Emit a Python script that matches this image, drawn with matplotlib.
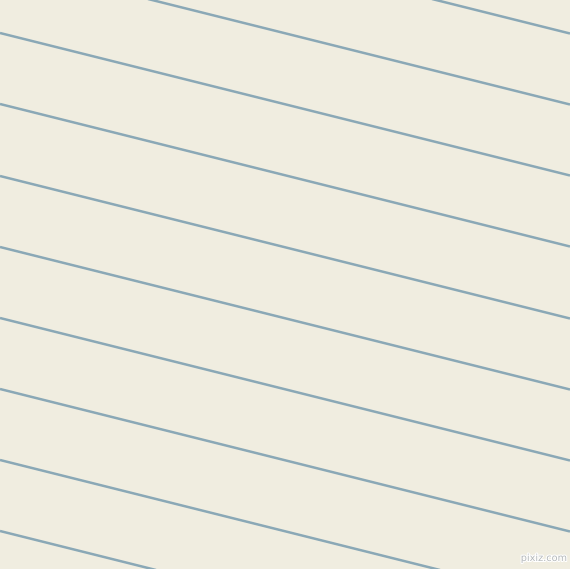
import numpy as np
import matplotlib
matplotlib.use("Agg")
import matplotlib.pyplot as plt
import matplotlib.patheffects as pe

# line intercepts at left edge (pixels) and common slope
intercepts = [-109, -38, 33, 104, 176, 247, 318, 389, 460, 531]
slope = 0.25
x_ends = [0, 570]

bg = "#f0ede0"
line_col = "#8aa8b6"

fig = plt.figure(figsize=(5.70, 5.69), dpi=100)
fig.patch.set_facecolor(bg)
ax = fig.add_axes([0, 0, 1, 1])
ax.set_facecolor(bg)
ax.set_xlim(0, 570)
ax.set_ylim(569, 0)
ax.axis("off")

for b in intercepts:
    ys = [b + slope * x for x in x_ends]
    ax.plot(x_ends, ys, color=line_col, lw=1.8, solid_capstyle="butt")

ax.text(567, 563, "pixiz.com", ha="right", va="bottom", fontsize=7,
        color="#b4b8ba",
        path_effects=[pe.withStroke(linewidth=1.5, foreground="white")])

fig.savefig("out.png", dpi=100, facecolor=bg)
